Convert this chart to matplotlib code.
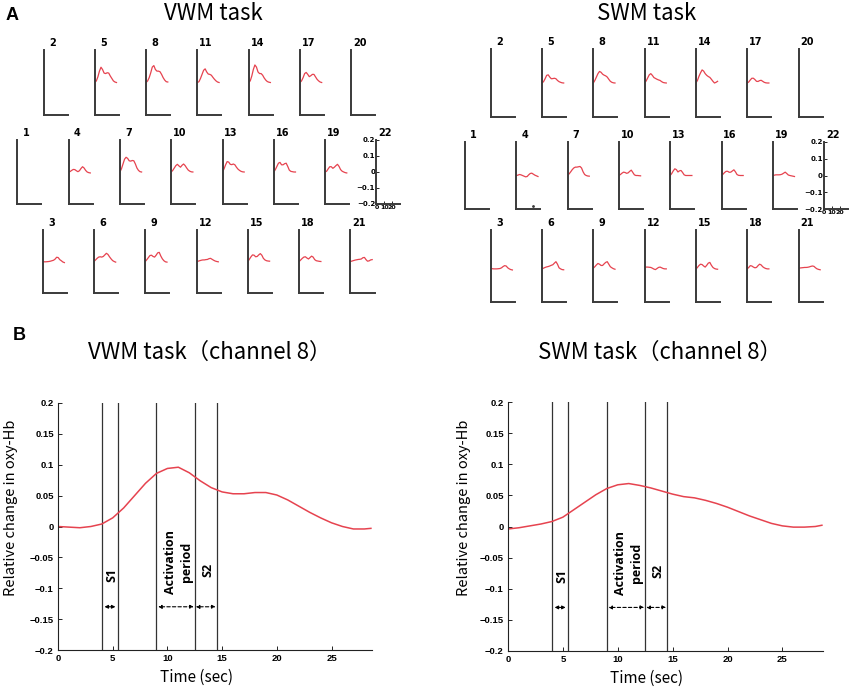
import numpy as np
import matplotlib
matplotlib.use("Agg")
import matplotlib.pyplot as plt

W, H = 850, 687

# ---------------- panel A data (channel grid, 2 s steps) ----------------
t_small = np.arange(0, 29, 2)

row1_channels = [2, 5, 8, 11, 14, 17, 20]
row2_channels = [1, 4, 7, 10, 13, 16, 19, 22]
row3_channels = [3, 6, 9, 12, 15, 18, 21]

# VWM task
vwm_05 = [0, 0.01, 0.035, 0.07, 0.094, 0.08, 0.058, 0.055, 0.06, 0.058, 0.04, 0.025, 0.01, 0.003, 0]
vwm_08 = [0, 0.01, 0.03, 0.06, 0.095, 0.104, 0.08, 0.07, 0.07, 0.066, 0.05, 0.03, 0.015, 0.005, 0.003]
vwm_11 = [0, 0.005, 0.025, 0.05, 0.075, 0.084, 0.065, 0.052, 0.05, 0.045, 0.032, 0.02, 0.01, 0.003, 0]
vwm_14 = [0, 0.01, 0.04, 0.08, 0.108, 0.095, 0.065, 0.055, 0.055, 0.045, 0.028, 0.015, 0.006, 0.002, 0]
vwm_17 = [0, 0.01, 0.03, 0.055, 0.062, 0.05, 0.036, 0.042, 0.05, 0.05, 0.035, 0.02, 0.01, 0.003, 0]
vwm_04 = [0, 0.003, 0.01, 0.016, 0.015, 0.008, 0.002, 0.008, 0.022, 0.033, 0.025, 0.01, 0.0, -0.004, -0.006]
vwm_07 = [0, 0.02, 0.05, 0.08, 0.092, 0.085, 0.07, 0.068, 0.072, 0.07, 0.05, 0.025, 0.01, 0.002, 0]
vwm_10 = [0, 0.01, 0.025, 0.04, 0.048, 0.038, 0.03, 0.042, 0.05, 0.04, 0.025, 0.012, 0.005, 0.001, 0]
vwm_13 = [0, 0.02, 0.045, 0.065, 0.062, 0.048, 0.046, 0.05, 0.045, 0.03, 0.018, 0.01, 0.004, 0.001, 0]
vwm_16 = [0, 0.015, 0.035, 0.055, 0.06, 0.045, 0.045, 0.052, 0.055, 0.035, 0.012, 0.004, 0.002, 0.0, 0]
vwm_19 = [0, 0.005, 0.02, 0.033, 0.033, 0.023, 0.03, 0.04, 0.048, 0.035, 0.015, 0.005, 0.0, -0.004, -0.006]
vwm_03 = [0, -0.002, -0.002, -0.001, 0.0, 0.002, 0.005, 0.008, 0.015, 0.027, 0.025, 0.012, 0.005, -0.003, -0.007]
vwm_06 = [0, 0.01, 0.02, 0.028, 0.03, 0.028, 0.032, 0.042, 0.052, 0.045, 0.03, 0.017, 0.006, 0.0, -0.004]
vwm_09 = [0, 0.012, 0.025, 0.038, 0.04, 0.032, 0.028, 0.04, 0.055, 0.058, 0.035, 0.017, 0.005, -0.002, -0.004]
vwm_12 = [0, 0.002, 0.005, 0.008, 0.01, 0.01, 0.012, 0.013, 0.018, 0.02, 0.014, 0.008, 0.003, 0.0, -0.002]
vwm_15 = [0, 0.015, 0.03, 0.042, 0.04, 0.03, 0.032, 0.042, 0.05, 0.04, 0.02, 0.01, 0.005, 0.003, 0.002]
vwm_18 = [0, 0.01, 0.02, 0.028, 0.03, 0.022, 0.016, 0.025, 0.034, 0.028, 0.012, 0.005, 0.003, 0.001, 0]
vwm_21 = [0, 0.003, 0.006, 0.009, 0.011, 0.013, 0.014, 0.016, 0.024, 0.026, 0.012, 0.002, 0.004, 0.01, 0.012]

# SWM task
swm_05 = [0, 0.008, 0.025, 0.045, 0.048, 0.035, 0.025, 0.026, 0.028, 0.025, 0.015, 0.008, 0.004, 0.001, 0]
swm_08 = [0, 0.015, 0.035, 0.055, 0.068, 0.063, 0.052, 0.046, 0.042, 0.035, 0.022, 0.01, 0.004, 0.001, 0]
swm_11 = [0, 0.012, 0.03, 0.048, 0.055, 0.045, 0.032, 0.027, 0.022, 0.018, 0.015, 0.008, 0.003, 0.001, 0]
swm_14 = [0, 0.015, 0.04, 0.06, 0.077, 0.07, 0.055, 0.045, 0.038, 0.033, 0.022, 0.01, 0.0, 0.004, 0.01]
swm_17 = [0, 0.006, 0.018, 0.028, 0.028, 0.02, 0.01, 0.009, 0.014, 0.016, 0.01, 0.004, 0.001, 0.0, 0]
swm_04 = [0, 0.002, 0.006, 0.004, 0.0, -0.004, -0.008, -0.006, 0.004, 0.012, 0.014, 0.008, 0.002, -0.002, -0.006]
swm_07 = [0, 0.01, 0.022, 0.035, 0.045, 0.05, 0.05, 0.052, 0.054, 0.045, 0.022, 0.006, 0.0, -0.003, -0.004]
swm_10 = [0, 0.006, 0.014, 0.02, 0.018, 0.013, 0.016, 0.025, 0.032, 0.018, 0.004, 0.0, 0.0, -0.001, -0.002]
swm_13 = [0, 0.012, 0.028, 0.04, 0.035, 0.021, 0.028, 0.03, 0.018, 0.004, 0.0, 0.0, 0.0, 0.0, 0]
swm_16 = [0, 0.008, 0.018, 0.025, 0.025, 0.019, 0.02, 0.027, 0.034, 0.022, 0.006, 0.001, 0.0, 0.0, 0]
swm_19 = [0, 0.002, 0.004, 0.004, 0.004, 0.005, 0.008, 0.014, 0.02, 0.012, 0.003, 0.0, -0.002, -0.004, -0.006]
swm_03 = [-0.012, -0.015, -0.016, -0.016, -0.016, -0.015, -0.014, -0.01, -0.003, 0.002, 0.0, -0.01, -0.016, -0.02, -0.022]
swm_06 = [-0.016, -0.012, -0.008, -0.005, -0.003, 0.0, 0.004, 0.007, 0.016, 0.024, 0.01, -0.01, -0.016, -0.02, -0.021]
swm_09 = [-0.012, -0.004, 0.006, 0.014, 0.01, 0.003, 0.003, 0.012, 0.02, 0.024, 0.01, -0.004, -0.01, -0.015, -0.018]
swm_12 = [-0.006, -0.006, -0.006, -0.007, -0.008, -0.012, -0.017, -0.02, -0.014, -0.008, -0.006, -0.01, -0.014, -0.016, -0.016]
swm_15 = [-0.018, -0.008, 0.003, 0.01, 0.008, 0.0, -0.006, 0.004, 0.016, 0.02, 0.004, -0.008, -0.014, -0.017, -0.018]
swm_18 = [-0.016, -0.008, 0.002, 0.0, -0.006, -0.01, -0.008, 0.002, 0.01, 0.006, -0.004, -0.01, -0.014, -0.016, -0.016]
swm_21 = [-0.012, -0.011, -0.01, -0.009, -0.008, -0.008, -0.007, -0.005, -0.002, 0.0, -0.002, -0.01, -0.016, -0.019, -0.021]

vwm_curves = {5: vwm_05, 8: vwm_08, 11: vwm_11, 14: vwm_14, 17: vwm_17,
              4: vwm_04, 7: vwm_07, 10: vwm_10, 13: vwm_13, 16: vwm_16, 19: vwm_19,
              3: vwm_03, 6: vwm_06, 9: vwm_09, 12: vwm_12, 15: vwm_15, 18: vwm_18, 21: vwm_21}
swm_curves = {5: swm_05, 8: swm_08, 11: swm_11, 14: swm_14, 17: swm_17,
              4: swm_04, 7: swm_07, 10: swm_10, 13: swm_13, 16: swm_16, 19: swm_19,
              3: swm_03, 6: swm_06, 9: swm_09, 12: swm_12, 15: swm_15, 18: swm_18, 21: swm_21}

# ---------------- panel B data (channel 8, 1 s steps) ----------------
t_b = list(range(0, 29)) + [28.6]
vwm_ch8 = [0, -0.001, -0.002, 0.0, 0.004, 0.014, 0.03, 0.05, 0.07, 0.086, 0.094, 0.096, 0.087, 0.074,
           0.063, 0.056, 0.053, 0.053, 0.055, 0.055, 0.051, 0.043, 0.033, 0.023, 0.014, 0.006, 0.0,
           -0.004, -0.004, -0.003]
swm_ch8 = [-0.004, -0.002, 0.001, 0.004, 0.008, 0.015, 0.027, 0.039, 0.051, 0.061, 0.067, 0.069, 0.066,
           0.062, 0.057, 0.052, 0.048, 0.046, 0.042, 0.037, 0.031, 0.024, 0.017, 0.011, 0.005, 0.001,
           -0.001, -0.001, 0.0, 0.002]
event_times = [4, 5.5, 9, 12.5, 14.5]

RED = '#e6434f'
GREY = '#3a3a3a'

fig = plt.figure(figsize=(8.5, 6.87), dpi=100)


def px_axes(left, top, right, bottom):
    return fig.add_axes([left / W, 1 - bottom / H, (right - left) / W, (bottom - top) / H])


def small_panel(left, top, bottom, ch, curves):
    ax = px_axes(left, top, left + 24, bottom)
    for s in ['top', 'right']:
        ax.spines[s].set_visible(False)
    for s in ['left', 'bottom']:
        ax.spines[s].set_color(GREY)
        ax.spines[s].set_linewidth(1.4)
    ax.set_xlim(0, 31)
    ax.set_ylim(-0.2, 0.2)
    ax.patch.set_alpha(0)
    if ch in curves:
        ax.plot(t_small, curves[ch], color=RED, lw=0.9)
    if ch == 22:
        ax.set_yticks([-0.2, -0.1, 0, 0.1, 0.2])
        ax.set_yticklabels(['\u22120.2', '\u22120.1', '0', '0.1', '0.2'])
        ax.set_xticks([0, 10, 20])
        ax.tick_params(direction='in', length=2, width=0.6, labelsize=5, pad=1)
        ax.tick_params(axis='x', labelsize=4.5)
        for lab in ax.get_xticklabels() + ax.get_yticklabels():
            lab.set_fontweight('bold')
    else:
        ax.set_xticks([])
        ax.set_yticks([])
    ax.text(0.36, 1.03, str(ch), transform=ax.transAxes, ha='center', va='bottom',
            fontsize=7, fontweight='bold', family='DejaVu Sans')
    return ax


def grid(x1, x2, x3, rows_y, curves):
    step = 51.3
    for k, ch in enumerate(row1_channels):
        small_panel(x1 + k * step, rows_y[0][0], rows_y[0][1], ch, curves)
    for k, ch in enumerate(row2_channels):
        small_panel(x2 + k * step, rows_y[1][0], rows_y[1][1], ch, curves)
    for k, ch in enumerate(row3_channels):
        small_panel(x3 + k * step, rows_y[2][0], rows_y[2][1], ch, curves)


grid(43.5, 17.3, 42.7, [(50, 115), (140, 204), (230, 293)], vwm_curves)
grid(490.7, 465, 490.7, [(49, 117), (142, 209), (230, 302)], swm_curves)
# stray dot seen under channel 4 of the SWM grid
ax_dot = px_axes(465 + 51.3, 142, 465 + 51.3 + 24, 209)
ax_dot.axis('off')
ax_dot.set_xlim(0, 31)
ax_dot.set_ylim(-0.2, 0.2)
ax_dot.plot([21], [-0.18], 'o', ms=1, color=GREY)

cjk = ['Noto Sans CJK JP', 'DejaVu Sans']
fig.text(213 / W, 1 - 14 / H, 'VWM task', ha='center', va='center', fontsize=16, family=cjk)
fig.text(647 / W, 1 - 14 / H, 'SWM task', ha='center', va='center', fontsize=16, family=cjk)
fig.text(12 / W, 1 - 15 / H, 'A', ha='center', va='center', fontsize=13, fontweight='bold',
         family='Liberation Sans')
fig.text(19 / W, 1 - 336 / H, 'B', ha='center', va='center', fontsize=13, fontweight='bold',
         family='Liberation Sans')


def big_panel(box, t, y, title, title_x, ylab_x):
    ax = px_axes(*box)
    for s in ['top', 'right']:
        ax.spines[s].set_visible(False)
    for s in ['left', 'bottom']:
        ax.spines[s].set_linewidth(0.8)
        ax.spines[s].set_color('#222222')
    ax.set_xlim(0, 28.7)
    ax.set_ylim(-0.2, 0.2)
    for et in event_times:
        ax.axvline(et, color='#333333', lw=0.9)
    ax.plot(t, y, color=RED, lw=1.1)

    yt = [-0.2, -0.15, -0.1, -0.05, 0, 0.05, 0.1, 0.15, 0.2]
    ax.set_yticks(yt)
    ax.set_yticklabels(['\u22120.2', '\u22120.15', '\u22120.1', '\u22120.05', '0',
                        '0.05', '0.1', '0.15', '0.2'])
    ax.set_xticks([0, 5, 10, 15, 20, 25])
    ax.tick_params(direction='in', length=3, width=0.6, labelsize=6.8, pad=3)
    for lab in ax.get_xticklabels() + ax.get_yticklabels():
        lab.set_fontweight('bold')
        lab.set_family('Liberation Sans')

    ay = -0.13
    ax.annotate('', xy=(4.25, ay), xytext=(5.25, ay),
                arrowprops=dict(arrowstyle='<|-|>', lw=0.8, color='black',
                                mutation_scale=5, shrinkA=0, shrinkB=0))
    ax.annotate('', xy=(9.15, ay), xytext=(12.4, ay),
                arrowprops=dict(arrowstyle='<|-|>', lw=0.8, color='black', ls=(0, (3, 2)),
                                mutation_scale=5, shrinkA=0, shrinkB=0))
    ax.annotate('', xy=(12.6, ay), xytext=(14.4, ay),
                arrowprops=dict(arrowstyle='<|-|>', lw=0.8, color='black', ls=(0, (3, 2)),
                                mutation_scale=5, shrinkA=0, shrinkB=0))
    tfont = dict(rotation=90, ha='center', va='center', fontsize=9, fontweight='bold',
                 family='Open Sans', linespacing=1.25)
    ax.text(4.9, -0.079, 'S1', **tfont)
    ax.text(11.0, -0.058, 'Activation\nperiod', **tfont)
    ax.text(13.7, -0.071, 'S2', **tfont)

    ax.set_xlabel('Time (sec)', fontsize=11, family=cjk)
    ax.set_ylabel('Relative change in oxy-Hb', fontsize=10.5, family=cjk)
    ax.xaxis.set_label_coords(0.44, -0.075)
    ax.yaxis.set_label_coords(ylab_x, 0.575)
    fig.text(title_x / W, 1 - 352 / H, title, ha='center', va='center', fontsize=16, family=cjk)
    return ax


big_panel((58, 403, 372, 650), t_b, vwm_ch8, 'VWM task\uff08channel 8\uff09', 210, -0.128)
big_panel((508, 402, 823, 651), t_b, swm_ch8, 'SWM task\uff08channel 8\uff09', 660, -0.118)

fig.savefig('out.png', dpi=100)
